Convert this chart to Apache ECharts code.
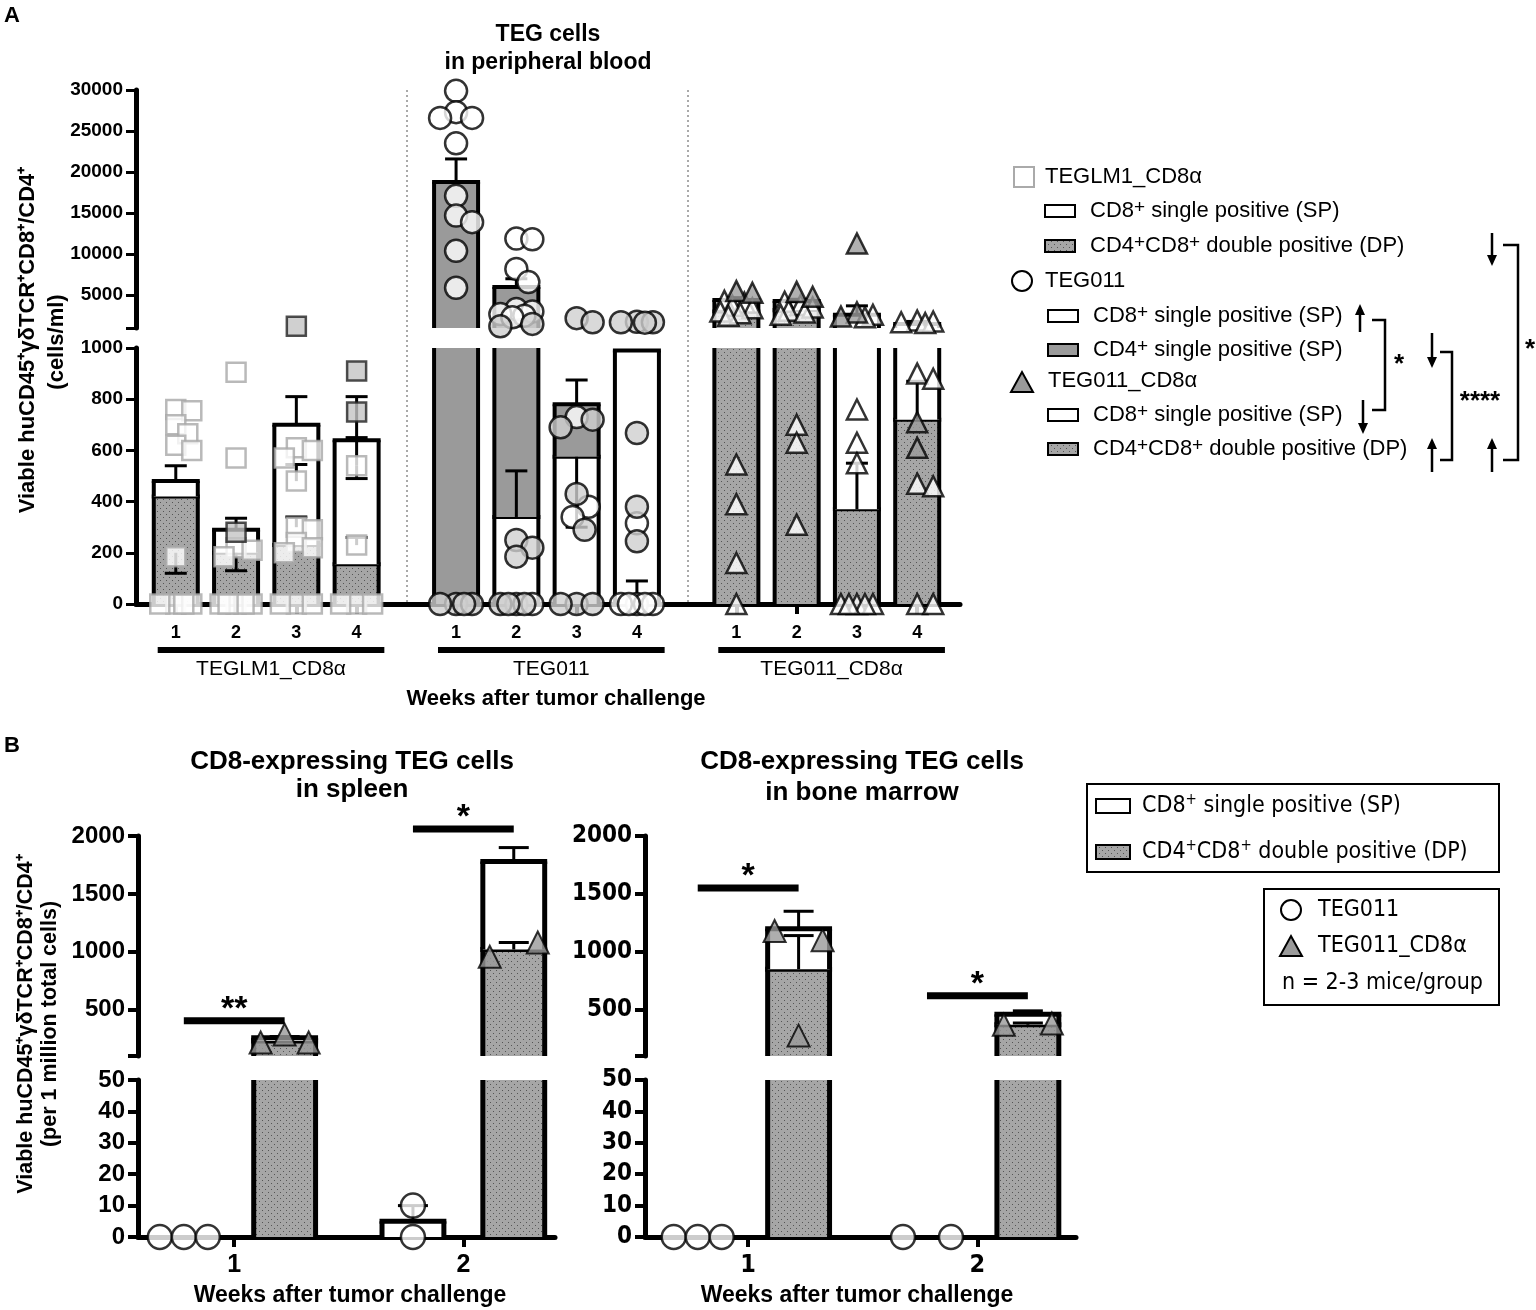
<!DOCTYPE html>
<html>
<head>
<meta charset="utf-8">
<script src="https://cdn.jsdelivr.net/npm/echarts@6/dist/echarts.min.js"></script>
<style>html,body{margin:0;background:#fff}#c{width:1536px;height:1310px}</style>
</head>
<body>
<div id="c"></div>
<script>
// ---------- panel A data (peripheral blood, cells/ml) ----------
var weeksA = ['1', '2', '3', '4'];
var groupsA = ['TEGLM1_CD8α', 'TEG011', 'TEG011_CD8α'];
// bottom part of each stacked bar (DP for the CD8α lines, CD8 SP for TEG011)
var bottomA = [
    [420, 200, 230, 155],
    [0, 340, 575, 990],
    [3000, 3200, 370, 720]
];
// bar totals
var totalA = [
    [480, 290, 700, 640],
    [18800, 6000, 780, 990],
    [4400, 4300, 2600, 1500]
];
// error caps on the totals
var capA = [
    [540, 335, 810, 810],
    [21600, 7000, 875, 990],
    [4700, 4500, 3700, 1800]
];
// extra error bars inside the bars: group, week, from, to
var innerErrA = [
    [0, 0, 200, 120], [0, 1, 200, 130], [0, 2, 480, 545], [0, 2, 300, 340],
    [0, 3, 540, 650], [0, 3, 540, 490], [0, 3, 230, 260],
    [1, 1, 340, 520], [1, 2, 575, 300], [1, 3, 0, 90],
    [2, 2, 370, 550], [2, 3, 720, 870]
];
// individual mice, open symbols
var whiteA = [
    [[760, 755, 700, 665, 620, 600, 185, 0, 0, 0, 0], [905, 570, 220, 210, 185, 0, 0, 0, 0, 0],
     [610, 600, 570, 480, 300, 290, 240, 220, 200, 0, 0, 0], [540, 230, 0, 0, 0]],
    [[29900, 27300, 26600, 26600, 23500, 17100, 14700, 13900, 10400, 5900],
     [11900, 11800, 8200, 6600, 3300, 3000, 2700, 2500, 2300, 0, 0], [730, 380, 340], [315, 0, 0, 0, 0, 0]],
    [[4300, 4100, 3700, 3400, 3000, 2800, 2500, 545, 390, 160, 0], [4200, 3800, 3500, 3100, 2900, 2600, 700, 630, 310],
     [2600, 2300, 760, 630, 550, 0, 0, 0, 0, 0], [1900, 1800, 1700, 1600, 900, 880, 470, 460, 0, 0]]
];
// individual mice, grey symbols
var grayA = [
    [[], [280], [1200], [910, 750]],
    [[0, 0, 0, 0], [1500, 1200, 250, 220, 185, 0, 0, 0], [2200, 1700, 720, 690, 430, 290, 0, 0, 0],
     [1750, 1700, 1700, 1650, 668, 380, 245]],
    [[5500, 5300], [5400, 4800], [11300, 2900, 2400], [710, 610]]
];
var upperTicksA = [5000, 10000, 15000, 20000, 25000, 30000];

// ---------- panel B data (per 1 million total cells) ----------
var weeksB = ['1', '2'];
var spleenDP = [230, 1020];
var spleenTotal = [258, 1780];
var spleenCap = [268, 1900];
var spleenDPCap = [0, 1080];
var spleenTeg = [0, 5];
var spleenTegCap = [0, 10];
var spleenTri = [[216, 285, 216], [957, 1080]];
var spleenCirc = [[0, 0, 0], [10, 0]];
var spleenSig = ['**', '*'];
var spleenSigY = [405, 2060];

var marrowDP = [850, 370];
var marrowTotal = [1200, 460];
var marrowCap = [1350, 490];
var marrowDPCap = [1140, 385];
var marrowTeg = [0, 0];
var marrowTegCap = [0, 0];
var marrowTri = [[1180, 276, 1100], [370, 380]];
var marrowCirc = [[0, 0, 0], [0, 0]];
var marrowSig = ['*', '*'];
var marrowSigY = [1550, 620];
var upperTicksB = [500, 1000, 1500, 2000];

// ---------- styles / layout ----------
var FONT = "'Liberation Sans', Arial, sans-serif";
var NARROW = "'Liberation Sans Narrow', 'DejaVu Sans Condensed', 'Liberation Sans', sans-serif";

function makeDots() {
    var c = document.createElement('canvas');
    c.width = 6; c.height = 6;
    var g = c.getContext('2d');
    g.fillStyle = '#a6a6a6'; g.fillRect(0, 0, 6, 6);
    g.fillStyle = '#555'; g.fillRect(1, 1, 1, 1); g.fillRect(4, 4, 1, 1);
    return c;
}
var dots = {image: makeDots(), repeat: 'repeat'};
var fills = ['#fff', '#9a9a9a', dots];

// A layout
var LA = {left: 136, right: 960, upTop: 90, upBot: 328, loTop: 348, loBot: 604, xMax: 13.67, brk: 1000, yMax: 30000};
var unitA = (LA.right - LA.left) / LA.xMax;
function posA(g, w) { return 0.66 + g * 4.65 + w; }
function pyA(v) {
    return v > LA.brk ? LA.upBot - (v - LA.brk) * (LA.upBot - LA.upTop) / (LA.yMax - LA.brk)
                      : LA.loBot - v * (LA.loBot - LA.loTop) / LA.brk;
}
// B layout
var LB = {upTop: 836, upBot: 1056, loTop: 1080, loBot: 1237, brk: 100, yMax: 2000, loMax: 50};
var spleenX = {left: 138, right: 555, min: 0.58, max: 2.40};
var marrowX = {left: 645, right: 1076, min: 0.55, max: 2.43};
function posB(w, s) { return w + 1 + (s ? 0.22 : -0.22); }
function pyB(v) {
    return v > LB.loMax ? LB.upBot - (v - LB.brk) * (LB.upBot - LB.upTop) / (LB.yMax - LB.brk)
                        : LB.loBot - v * (LB.loBot - LB.loTop) / LB.loMax;
}

// column scatter: pixel offsets, kept inside the bar, overlap allowed when crowded
function swarm(vals, toPx, minDist, step, maxOff) {
    var placed = [], out = [];
    vals.forEach(function (v) {
        var py = toPx(v), best = 0, bestD = -1;
        for (var k = 0; ; k++) {
            var off = (k % 2 ? 1 : -1) * Math.ceil(k / 2) * step;
            if (Math.abs(off) > maxOff) break;
            var d = placed.reduce(function (m, p) {
                var dx = p[0] - off, dy = p[1] - py;
                return Math.min(m, Math.sqrt(dx * dx + dy * dy));
            }, Infinity);
            if (d >= minDist) { best = off; break; }
            if (d > bestD) { bestD = d; best = off; }
        }
        placed.push([best, py]); out.push(best);
    });
    return out;
}
// panel B: overlapping points are spread symmetrically, in data order
function spread(vals, toPx, minDist, gap) {
    var py = vals.map(toPx), cl = vals.map(function () { return -1; }), n = 0, out = [];
    vals.forEach(function (v, i) {
        if (cl[i] < 0) cl[i] = n++;
        vals.forEach(function (w, j) { if (j > i && cl[j] < 0 && Math.abs(py[j] - py[i]) < minDist) cl[j] = cl[i]; });
    });
    for (var c = 0; c < n; c++) {
        var idx = [];
        cl.forEach(function (x, i) { if (x === c) idx.push(i); });
        idx.forEach(function (i, k) { out[i] = idx.length === 2 ? (k ? gap : -gap) : (k - (idx.length - 1) / 2) * gap; });
    }
    return out;
}

// stacked bar piece, clipped to one segment of a broken axis
function barRenderer(lo, hi, bw, lw) {
    return function (params, api) {
        var x = api.value(0), v0 = api.value(1), v1 = api.value(2), kind = api.value(3);
        var a = Math.max(v0, lo), b = Math.min(v1, hi);
        if (!(b > a)) return null;
        var pa = api.coord([x, a]), pb = api.coord([x, b]);
        var w = api.size([bw, 0])[0];
        var xl = pa[0] - w / 2, xr = pa[0] + w / 2;
        var ln = {stroke: '#000', lineWidth: lw};
        var kids = [
            {type: 'rect', shape: {x: xl, y: pb[1], width: w, height: pa[1] - pb[1]}, style: {fill: fills[kind]}},
            {type: 'line', shape: {x1: xl, y1: pa[1], x2: xl, y2: pb[1]}, style: ln},
            {type: 'line', shape: {x1: xr, y1: pa[1], x2: xr, y2: pb[1]}, style: ln}
        ];
        if (v1 <= hi) kids.push({type: 'line', shape: {x1: xl - lw / 2, y1: pb[1], x2: xr + lw / 2, y2: pb[1]}, style: ln});
        return {type: 'group', children: kids};
    };
}
function errRenderer(lo, hi, capPx, lw) {
    return function (params, api) {
        var x = api.value(0), f = api.value(1), t = api.value(2);
        var a = Math.min(Math.max(f, lo), hi), b = Math.min(Math.max(t, lo), hi);
        if (a === b) return null;
        var pa = api.coord([x, a]), pb = api.coord([x, b]);
        var kids = [{type: 'line', shape: {x1: pa[0], y1: pa[1], x2: pb[0], y2: pb[1]}, style: {stroke: '#000', lineWidth: lw}}];
        if (t >= lo && t <= hi) kids.push({type: 'line', shape: {x1: pb[0] - capPx / 2, y1: pb[1], x2: pb[0] + capPx / 2, y2: pb[1]}, style: {stroke: '#000', lineWidth: lw}});
        return {type: 'group', children: kids};
    };
}
function sigRenderer(labels) {
    return function (params, api) {
        var p1 = api.coord([api.value(0), api.value(2)]);
        var p2 = api.coord([api.value(1), api.value(2)]);
        return {type: 'group', children: [
            {type: 'line', shape: {x1: p1[0], y1: p1[1], x2: p2[0], y2: p2[1]}, style: {stroke: '#000', lineWidth: 7}},
            {type: 'text', style: {x: (p1[0] + p2[0]) / 2, y: p1[1] + 6, text: labels[params.dataIndex],
                font: 'bold 34px ' + FONT, align: 'center', verticalAlign: 'bottom', fill: '#000'}}
        ]};
    };
}
function plain(v) { return String(v); }

// ---------- build series ----------
var series = [];
var grids = [], xAxes = [], yAxes = [];
function addGrid(g, x, y) {
    var i = grids.length;
    x.gridIndex = i; y.gridIndex = i;
    grids.push(g); xAxes.push(x); yAxes.push(y);
    return i;
}

var yLab = {color: '#000', fontWeight: 'bold', fontFamily: FONT};
// A grids
var gAu = addGrid(
    {left: LA.left, top: LA.upTop, width: LA.right - LA.left, height: LA.upBot - LA.upTop, outerBoundsMode: 'none'},
    {type: 'value', min: 0, max: LA.xMax, show: false, splitLine: {show: false}},
    {type: 'value', min: LA.brk, max: LA.yMax, splitLine: {show: false},
     axisLine: {show: true, lineStyle: {color: '#000', width: 5}},
     axisTick: {show: true, length: 10, lineStyle: {width: 3, color: '#000'}, customValues: [LA.brk].concat(upperTicksA)},
     axisLabel: Object.assign({fontSize: 19, margin: 13, customValues: upperTicksA, formatter: plain}, yLab)});
var tickPosA = [], tickLabA = {};
groupsA.forEach(function (g, gi) { weeksA.forEach(function (w, wi) { var p = posA(gi, wi); tickPosA.push(p); tickLabA[p.toFixed(2)] = w; }); });
var gAl = addGrid(
    {left: LA.left, top: LA.loTop, width: LA.right - LA.left, height: LA.loBot - LA.loTop, outerBoundsMode: 'none'},
    {type: 'value', min: 0, max: LA.xMax, splitLine: {show: false},
     axisLine: {show: true, lineStyle: {color: '#000', width: 5}},
     axisTick: {show: true, length: 10, lineStyle: {width: 4, color: '#000'}, customValues: tickPosA},
     axisLabel: Object.assign({fontSize: 18, margin: 20, customValues: tickPosA, formatter: function (v) { return tickLabA[v.toFixed(2)] || ''; }}, yLab)},
    {type: 'value', min: 0, max: LA.brk, interval: 200, splitLine: {show: false},
     axisLine: {show: true, lineStyle: {color: '#000', width: 5}},
     axisTick: {show: true, length: 10, lineStyle: {width: 3, color: '#000'}},
     axisLabel: Object.assign({fontSize: 19, margin: 13, formatter: plain}, yLab)});

// A bars
var botKind = [2, 0, 2], topKind = [0, 1, 0];
var barDataA = [], errDataA = [];
groupsA.forEach(function (g, gi) {
    weeksA.forEach(function (w, wi) {
        var x = posA(gi, wi);
        barDataA.push([x, 0, bottomA[gi][wi], botKind[gi]]);
        barDataA.push([x, bottomA[gi][wi], totalA[gi][wi], topKind[gi]]);
        if (capA[gi][wi] > totalA[gi][wi]) errDataA.push([x, totalA[gi][wi], capA[gi][wi]]);
    });
});
innerErrA.forEach(function (e) { errDataA.push([posA(e[0], e[1]), e[2], e[3]]); });
[[gAu, LA.brk, LA.yMax], [gAl, 0, LA.brk]].forEach(function (s) {
    series.push({type: 'custom', xAxisIndex: s[0], yAxisIndex: s[0], clip: false, z: 2,
        renderItem: barRenderer(s[1], s[2], 0.73, 4), data: barDataA});
    series.push({type: 'custom', xAxisIndex: s[0], yAxisIndex: s[0], clip: false, z: 3,
        renderItem: errRenderer(s[1], s[2], 22, 3), data: errDataA});
});

// A points
var symA = ['rect', 'circle', 'triangle'];
var sizeA = [19, 22, 20];
var styleWhite = [{color: '#fff', borderColor: '#a8a8a8', borderWidth: 2.5},
                  {color: '#fff', borderColor: '#000', borderWidth: 2.5},
                  {color: '#fff', borderColor: '#000', borderWidth: 2.5}];
var styleGray = [{color: '#c4c4c4', borderColor: '#222', borderWidth: 2.5},
                 {color: '#cfcfcf', borderColor: '#000', borderWidth: 2.5},
                 {color: '#9c9c9c', borderColor: '#000', borderWidth: 2.5}];
groupsA.forEach(function (g, gi) {
    var pts = {w: {u: [], l: []}, g: {u: [], l: []}};
    weeksA.forEach(function (w, wi) {
        var all = whiteA[gi][wi].map(function (v) { return ['w', v]; })
            .concat(grayA[gi][wi].map(function (v) { return ['g', v]; }));
        all.sort(function (a, b) { return b[1] - a[1]; });
        var offs = swarm(all.map(function (p) { return p[1]; }), pyA, sizeA[gi] * 0.75, 4, 16);
        all.forEach(function (p, i) {
            var d = [posA(gi, wi) + offs[i] / unitA, p[1]];
            (p[1] > LA.brk ? pts[p[0]].u : pts[p[0]].l).push(d);
        });
    });
    ['w', 'g'].forEach(function (k) {
        [[gAu, 'u'], [gAl, 'l']].forEach(function (s) {
            series.push({type: 'scatter', xAxisIndex: s[0], yAxisIndex: s[0], clip: false, z: 4,
                symbol: symA[gi], symbolSize: sizeA[gi],
                itemStyle: k === 'w' ? styleWhite[gi] : styleGray[gi], data: pts[k][s[1]]});
        });
    });
});

// B grids
function panelB(X, font, dp, total, cap, dpCap, teg, tegCap, tri, circ, sig, sigY) {
    var unit = (X.right - X.left) / (X.max - X.min);
    var lab = {color: '#000', fontWeight: 'bold', fontFamily: font};
    var gu = addGrid(
        {left: X.left, top: LB.upTop, width: X.right - X.left, height: LB.upBot - LB.upTop, outerBoundsMode: 'none'},
        {type: 'value', min: X.min, max: X.max, show: false, splitLine: {show: false}},
        {type: 'value', min: LB.brk, max: LB.yMax, splitLine: {show: false},
         axisLine: {show: true, lineStyle: {color: '#000', width: 5}},
         axisTick: {show: true, length: 10, lineStyle: {width: 4, color: '#000'}, customValues: [LB.brk].concat(upperTicksB)},
         axisLabel: Object.assign({fontSize: 24, margin: 13, customValues: upperTicksB, formatter: plain}, lab)});
    var gl = addGrid(
        {left: X.left, top: LB.loTop, width: X.right - X.left, height: LB.loBot - LB.loTop, outerBoundsMode: 'none'},
        {type: 'value', min: X.min, max: X.max, splitLine: {show: false},
         axisLine: {show: true, lineStyle: {color: '#000', width: 5}},
         axisTick: {show: true, length: 10, lineStyle: {width: 4, color: '#000'}, customValues: [1, 2]},
         axisLabel: Object.assign({fontSize: 25, margin: 16, customValues: [1, 2], formatter: function (v) { return weeksB[Math.round(v) - 1]; }}, lab)},
        {type: 'value', min: 0, max: LB.loMax, interval: 10, splitLine: {show: false},
         axisLine: {show: true, lineStyle: {color: '#000', width: 5}},
         axisTick: {show: true, length: 10, lineStyle: {width: 4, color: '#000'}},
         axisLabel: Object.assign({fontSize: 24, margin: 13, formatter: plain}, lab)});
    var bars = [], errs = [], sigs = [];
    weeksB.forEach(function (w, wi) {
        var xs = posB(wi, 1), xt = posB(wi, 0);
        bars.push([xs, 0, dp[wi], 2]);
        bars.push([xs, dp[wi], total[wi], 0]);
        if (teg[wi] > 0) bars.push([xt, 0, teg[wi], 0]);
        if (cap[wi] > total[wi]) errs.push([xs, total[wi], cap[wi]]);
        if (dpCap[wi] > dp[wi]) errs.push([xs, dp[wi], dpCap[wi]]);
        if (tegCap[wi] > teg[wi]) errs.push([xt, teg[wi], tegCap[wi]]);
        sigs.push([xt, xs, sigY[wi]]);
    });
    [[gu, LB.brk, LB.yMax], [gl, 0, LB.loMax]].forEach(function (s) {
        series.push({type: 'custom', xAxisIndex: s[0], yAxisIndex: s[0], clip: false, z: 2,
            renderItem: barRenderer(s[1], s[2], 0.27, 5), data: bars});
        series.push({type: 'custom', xAxisIndex: s[0], yAxisIndex: s[0], clip: false, z: 3,
            renderItem: errRenderer(s[1], s[2], 30, 3), data: errs});
    });
    series.push({type: 'custom', xAxisIndex: gu, yAxisIndex: gu, clip: false, z: 5,
        renderItem: sigRenderer(sig), data: sigs});
    var triU = [], triL = [], cirU = [], cirL = [];
    weeksB.forEach(function (w, wi) {
        var to = spread(tri[wi], pyB, 20, 24);
        tri[wi].forEach(function (v, i) { (v > LB.loMax ? triU : triL).push([posB(wi, 1) + to[i] / unit, v]); });
        var co = spread(circ[wi], pyB, 24, 24);
        circ[wi].forEach(function (v, i) { (v > LB.loMax ? cirU : cirL).push([posB(wi, 0) + co[i] / unit, v]); });
    });
    [[gu, triU, cirU], [gl, triL, cirL]].forEach(function (s) {
        series.push({type: 'scatter', xAxisIndex: s[0], yAxisIndex: s[0], clip: false, z: 4,
            symbol: 'triangle', symbolSize: 22, itemStyle: {color: '#9a9a9a', borderColor: '#000', borderWidth: 2}, data: s[1]});
        series.push({type: 'scatter', xAxisIndex: s[0], yAxisIndex: s[0], clip: false, z: 4,
            symbol: 'circle', symbolSize: 24, itemStyle: {color: '#fff', borderColor: '#000', borderWidth: 2.5}, data: s[2]});
    });
}
panelB(spleenX, FONT, spleenDP, spleenTotal, spleenCap, spleenDPCap, spleenTeg, spleenTegCap, spleenTri, spleenCirc, spleenSig, spleenSigY);
panelB(marrowX, NARROW, marrowDP, marrowTotal, marrowCap, marrowDPCap, marrowTeg, marrowTegCap, marrowTri, marrowCirc, marrowSig, marrowSigY);

// ---------- texts, legends, annotations ----------
function txt(x, y, text, font, opt) {
    opt = opt || {};
    return {type: 'text', x: x, y: y, rotation: opt.rot || 0, z: 10,
        style: {x: 0, y: 0, text: text, font: font, fill: '#000', align: opt.align || 'left',
                verticalAlign: opt.va || 'middle', rich: opt.rich}};
}
function line(x1, y1, x2, y2, w, extra) {
    return Object.assign({type: 'line', z: 10, shape: {x1: x1, y1: y1, x2: x2, y2: y2}, style: {stroke: '#000', lineWidth: w}}, extra || {});
}
function arrow(x, yTail, yHead) {
    var d = yHead < yTail ? -1 : 1;
    return [line(x, yTail, x, yHead - d * 8, 2.5),
        {type: 'polygon', z: 10, shape: {points: [[x - 5, yHead - d * 11], [x + 5, yHead - d * 11], [x, yHead]]}, style: {fill: '#000'}}];
}
var richLeg = {a: {fontSize: 22, fontFamily: FONT, lineHeight: 26}, s: {fontSize: 19, fontFamily: FONT, verticalAlign: 'top', lineHeight: 26, padding: [0, 0, 10, 0]}};
function legTxt(x, y, parts) { return txt(x, y, parts, '22px ' + FONT, {rich: richLeg}); }
var SP8 = '{a|CD8}{s|+}{a| single positive (SP)}';
var DP = '{a|CD4}{s|+}{a|CD8}{s|+}{a| double positive (DP)}';
var SP4 = '{a|CD4}{s|+}{a| single positive (SP)}';
function legRect(x, y, fill) {
    return {type: 'rect', z: 10, shape: {x: x, y: y - 6, width: 30, height: 12}, style: {fill: fill, stroke: '#000', lineWidth: 2}};
}

var gfx = [
    txt(4, 16, 'A', 'bold 22px ' + FONT),
    txt(4, 746, 'B', 'bold 22px ' + FONT),
    txt(548, 35, 'TEG cells', 'bold 23px ' + FONT, {align: 'center'}),
    txt(548, 63, 'in peripheral blood', 'bold 23px ' + FONT, {align: 'center'}),
    txt(28, 340, 'Viable huCD45⁺γδTCR⁺CD8⁺/CD4⁺', 'bold 22px ' + FONT, {align: 'center', rot: Math.PI / 2}),
    txt(57, 342, '(cells/ml)', 'bold 22px ' + FONT, {align: 'center', rot: Math.PI / 2}),
    line(407, LA.upTop, 407, LA.loBot, 1, {style: {stroke: '#555', lineWidth: 1, lineDash: [2, 3]}}),
    line(688, LA.upTop, 688, LA.loBot, 1, {style: {stroke: '#555', lineWidth: 1, lineDash: [2, 3]}}),
    txt(556, 699, 'Weeks after tumor challenge', 'bold 22px ' + FONT, {align: 'center'}),
    // panel B titles
    txt(352, 762, 'CD8-expressing TEG cells', 'bold 26px ' + FONT, {align: 'center'}),
    txt(352, 790, 'in spleen', 'bold 26px ' + FONT, {align: 'center'}),
    txt(862, 762, 'CD8-expressing TEG cells', 'bold 26px ' + FONT, {align: 'center'}),
    txt(862, 793, 'in bone marrow', 'bold 26px ' + FONT, {align: 'center'}),
    txt(26, 1024, 'Viable huCD45⁺γδTCR⁺CD8⁺/CD4⁺', 'bold 21.5px ' + FONT, {align: 'center', rot: Math.PI / 2}),
    txt(50, 1024, '(per 1 million total cells)', 'bold 21.5px ' + FONT, {align: 'center', rot: Math.PI / 2}),
    txt(350, 1296, 'Weeks after tumor challenge', 'bold 23px ' + FONT, {align: 'center'}),
    txt(857, 1296, 'Weeks after tumor challenge', 'bold 23px ' + FONT, {align: 'center'})
];
// group underlines and names
groupsA.forEach(function (g, gi) {
    var x0 = LA.left + (posA(gi, 0) - 0.3) * unitA, x1 = LA.left + (posA(gi, 3) + 0.46) * unitA;
    gfx.push({type: 'rect', z: 10, shape: {x: x0, y: 647, width: x1 - x0, height: 6}, style: {fill: '#000'}});
    gfx.push(txt((x0 + x1) / 2, 669, g, '21px ' + FONT, {align: 'center'}));
});
// legend A
gfx.push({type: 'rect', z: 10, shape: {x: 1014, y: 167, width: 20, height: 20}, style: {fill: '#fff', stroke: '#aaa', lineWidth: 2}});
gfx.push(txt(1045, 177, 'TEGLM1_CD8α', '22px ' + FONT));
gfx.push(legRect(1045, 211, '#fff'), legTxt(1090, 211, SP8));
gfx.push(legRect(1045, 246, dots), legTxt(1090, 246, DP));
gfx.push({type: 'circle', z: 10, shape: {cx: 1022, cy: 281, r: 10}, style: {fill: '#fff', stroke: '#000', lineWidth: 2}});
gfx.push(txt(1045, 281, 'TEG011', '22px ' + FONT));
gfx.push(legRect(1048, 316, '#fff'), legTxt(1093, 316, SP8));
gfx.push(legRect(1048, 350, '#9a9a9a'), legTxt(1093, 350, SP4));
gfx.push({type: 'polygon', z: 10, shape: {points: [[1011, 392], [1033, 392], [1022, 372]]}, style: {fill: '#9a9a9a', stroke: '#000', lineWidth: 2}});
gfx.push(txt(1048, 381, 'TEG011_CD8α', '22px ' + FONT));
gfx.push(legRect(1048, 415, '#fff'), legTxt(1093, 415, SP8));
gfx.push(legRect(1048, 449, dots), legTxt(1093, 449, DP));
gfx = gfx.concat(arrow(1360, 332, 304), arrow(1363, 400, 434), arrow(1432, 333, 368), arrow(1432, 472, 438),
    arrow(1492, 233, 266), arrow(1492, 472, 438));
gfx.push({type: 'polyline', z: 10, shape: {points: [[1372, 320], [1385, 320], [1385, 410], [1372, 410]]}, style: {stroke: '#000', lineWidth: 2.5, fill: null}});
gfx.push(txt(1399, 365, '*', 'bold 26px ' + FONT, {align: 'center'}));
gfx.push({type: 'polyline', z: 10, shape: {points: [[1440, 352], [1452, 352], [1452, 460], [1440, 460]]}, style: {stroke: '#000', lineWidth: 2.5, fill: null}});
gfx.push(txt(1480, 402, '****', 'bold 26px ' + FONT, {align: 'center'}));
gfx.push({type: 'polyline', z: 10, shape: {points: [[1503, 245], [1518, 245], [1518, 460], [1503, 460]]}, style: {stroke: '#000', lineWidth: 2.5, fill: null}});
gfx.push(txt(1530, 350, '*', 'bold 26px ' + FONT, {align: 'center'}));
// legend B
var richB = {a: {fontSize: 23, fontFamily: NARROW, lineHeight: 26}, s: {fontSize: 15, fontFamily: NARROW, verticalAlign: 'top', lineHeight: 26, padding: [0, 0, 10, 0]}};
gfx.push({type: 'rect', z: 10, shape: {x: 1087, y: 784, width: 412, height: 88}, style: {fill: null, stroke: '#000', lineWidth: 2}});
gfx.push({type: 'rect', z: 10, shape: {x: 1096, y: 799, width: 34, height: 14}, style: {fill: '#fff', stroke: '#000', lineWidth: 2}});
gfx.push(txt(1142, 806, SP8, '23px ' + NARROW, {rich: richB}));
gfx.push({type: 'rect', z: 10, shape: {x: 1096, y: 845, width: 34, height: 14}, style: {fill: dots, stroke: '#000', lineWidth: 2}});
gfx.push(txt(1142, 852, DP, '23px ' + NARROW, {rich: richB}));
gfx.push({type: 'rect', z: 10, shape: {x: 1264, y: 889, width: 235, height: 116}, style: {fill: null, stroke: '#000', lineWidth: 2}});
gfx.push({type: 'circle', z: 10, shape: {cx: 1291, cy: 910, r: 10}, style: {fill: '#fff', stroke: '#000', lineWidth: 2}});
gfx.push(txt(1318, 910, 'TEG011', '23px ' + NARROW));
gfx.push({type: 'polygon', z: 10, shape: {points: [[1280, 956], [1302, 956], [1291, 936]]}, style: {fill: '#9a9a9a', stroke: '#000', lineWidth: 2}});
gfx.push(txt(1318, 946, 'TEG011_CD8α', '23px ' + NARROW));
gfx.push(txt(1282, 983, 'n = 2-3 mice/group', '23px ' + NARROW));

var chart = echarts.init(document.getElementById('c'));
chart.setOption({
    animation: false,
    backgroundColor: '#fff',
    grid: grids,
    xAxis: xAxes,
    yAxis: yAxes,
    series: series,
    graphic: gfx
});
</script>
</body>
</html>
